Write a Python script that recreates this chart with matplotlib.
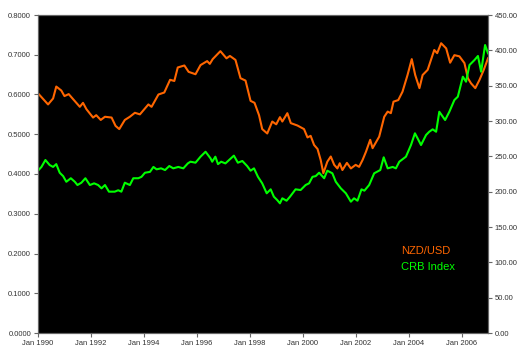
import matplotlib
matplotlib.use("Agg")
import matplotlib.pyplot as plt

fx_years = [1990.0, 1990.38, 1990.57, 1990.69, 1990.88, 1991.0, 1991.16, 1991.33, 1991.58, 1991.7,
            1991.83, 1992.08, 1992.2, 1992.37, 1992.53, 1992.78, 1992.93, 1993.07, 1993.28, 1993.47,
            1993.66, 1993.85, 1994.17, 1994.29, 1994.55, 1994.77, 1994.99, 1995.15, 1995.28, 1995.53,
            1995.69, 1995.95, 1996.14, 1996.39, 1996.49, 1996.6, 1996.89, 1997.12, 1997.25, 1997.46,
            1997.65, 1997.84, 1998.03, 1998.18, 1998.35, 1998.47, 1998.66, 1998.85, 1999.0, 1999.14,
            1999.23, 1999.42, 1999.55, 1999.8, 2000.05, 2000.18, 2000.3, 2000.43, 2000.56, 2000.68,
            2000.78, 2000.93, 2001.06, 2001.19, 2001.31, 2001.4, 2001.5, 2001.67, 2001.82, 2002.0,
            2002.13, 2002.26, 2002.39, 2002.55, 2002.64, 2002.89, 2003.08, 2003.21, 2003.33, 2003.43,
            2003.61, 2003.77, 2003.96, 2004.12, 2004.25, 2004.41, 2004.53, 2004.72, 2004.97, 2005.08,
            2005.23, 2005.42, 2005.57, 2005.73, 2005.92, 2006.11, 2006.24, 2006.36, 2006.52, 2006.68,
            2006.84, 2007.0]
fx_values = [0.603, 0.575, 0.590, 0.620, 0.610, 0.596, 0.601, 0.588, 0.569, 0.579,
             0.563, 0.542, 0.548, 0.536, 0.544, 0.542, 0.521, 0.513, 0.536, 0.544,
             0.554, 0.550, 0.575, 0.569, 0.600, 0.605, 0.637, 0.634, 0.668, 0.673,
             0.657, 0.651, 0.674, 0.684, 0.677, 0.689, 0.709, 0.691, 0.697, 0.687,
             0.641, 0.635, 0.584, 0.579, 0.548, 0.513, 0.502, 0.532, 0.525, 0.543,
             0.532, 0.553, 0.528, 0.522, 0.513, 0.492, 0.496, 0.473, 0.463, 0.435,
             0.402, 0.431, 0.444, 0.423, 0.414, 0.427, 0.410, 0.428, 0.414, 0.423,
             0.418, 0.435, 0.456, 0.486, 0.465, 0.494, 0.544, 0.557, 0.553, 0.582,
             0.586, 0.607, 0.649, 0.689, 0.649, 0.616, 0.649, 0.662, 0.712, 0.704,
             0.729, 0.716, 0.680, 0.699, 0.696, 0.679, 0.641, 0.628, 0.616, 0.637,
             0.662, 0.691]

# CRB Index (right axis)
crb_years = [1990.0, 1990.13, 1990.28, 1990.44, 1990.57, 1990.69, 1990.82, 1990.95, 1991.07, 1991.24,
             1991.39, 1991.49, 1991.64, 1991.79, 1991.96, 1992.12, 1992.27, 1992.4, 1992.53, 1992.68,
             1992.9, 1993.03, 1993.15, 1993.28, 1993.47, 1993.6, 1993.79, 1993.91, 1994.04, 1994.23,
             1994.36, 1994.48, 1994.65, 1994.8, 1994.96, 1995.11, 1995.3, 1995.49, 1995.66, 1995.76,
             1995.95, 1996.14, 1996.33, 1996.52, 1996.58, 1996.7, 1996.8, 1996.92, 1997.08, 1997.4,
             1997.55, 1997.72, 1997.9, 1998.03, 1998.16, 1998.31, 1998.47, 1998.64, 1998.79, 1998.91,
             1999.04, 1999.14, 1999.23, 1999.39, 1999.52, 1999.73, 1999.92, 2000.11, 2000.24, 2000.37,
             2000.49, 2000.62, 2000.81, 2000.93, 2001.12, 2001.25, 2001.44, 2001.63, 2001.82, 2001.94,
             2002.07, 2002.22, 2002.33, 2002.51, 2002.7, 2002.93, 2003.06, 2003.21, 2003.4, 2003.52,
             2003.65, 2003.9, 2004.09, 2004.24, 2004.34, 2004.47, 2004.66, 2004.78, 2004.91, 2005.04,
             2005.16, 2005.38, 2005.54, 2005.73, 2005.86, 2006.05, 2006.17, 2006.3, 2006.49, 2006.62,
             2006.74, 2006.89, 2007.0]
crb_values = [229.7, 235.0, 244.8, 237.7, 235.0, 239.0, 226.8, 222.0, 214.0, 219.0,
              214.0, 209.4, 212.7, 219.0, 209.4, 211.8, 209.4, 204.7, 209.4, 200.0,
              200.0, 202.0, 200.0, 212.7, 209.4, 219.0, 219.0, 221.0, 226.8, 228.0,
              235.0, 231.6, 233.0, 230.6, 236.3, 233.0, 235.0, 233.0, 240.0, 242.4,
              241.0, 249.5, 256.5, 247.0, 242.4, 249.5, 239.0, 242.4, 240.0, 251.0,
              241.0, 243.4, 236.3, 229.7, 233.0, 221.0, 211.8, 197.7, 203.3, 192.9,
              188.0, 183.5, 190.6, 187.2, 192.9, 203.3, 202.3, 209.4, 211.8, 221.0,
              222.0, 226.8, 219.0, 229.7, 226.0, 214.0, 204.7, 197.7, 185.8, 190.6,
              187.2, 203.3, 201.4, 209.4, 226.0, 230.6, 248.6, 233.0, 235.0, 233.0,
              242.4, 249.5, 266.0, 282.6, 275.5, 266.0, 280.2, 284.8, 288.2, 284.8,
              313.1, 301.4, 313.1, 329.7, 334.4, 362.7, 355.6, 379.2, 386.3, 392.0,
              369.7, 407.5, 395.8]

left_ticks = [0.1 * i for i in range(9)]
right_ticks = [50 * i for i in range(10)]
year_ticks = list(range(1990, 2007, 2))

orange = "#ff6600"
green = "#00ff00"
label_color = "#333333"
plt.rcParams['font.family'] = ['Liberation Sans', 'DejaVu Sans']

fig = plt.figure(figsize=(5.25, 3.59), dpi=100)
ax = fig.add_axes([38 / 525, 26 / 359, 450 / 525, 318 / 359])
ax.set_facecolor("black")
ax2 = ax.twinx()

ax.plot(fx_years, fx_values, color=orange, linewidth=1.5)
ax2.plot(crb_years, crb_values, color=green, linewidth=1.5)

ax.set_xlim(1990, 2007)
ax.set_ylim(0, 0.8)
ax2.set_ylim(0, 450)

ax.set_xticks(year_ticks)
ax.set_xticklabels(["Jan %d" % y for y in year_ticks])
ax.set_yticks(left_ticks)
ax.set_yticklabels(["%.4f" % v for v in left_ticks])
ax2.set_yticks(right_ticks)
ax2.set_yticklabels(["%.2f" % v for v in right_ticks])

for a in (ax, ax2):
    a.tick_params(labelsize=5.5, colors="#666666", labelcolor=label_color, length=3, width=0.8, pad=2)
    for s in a.spines.values():
        s.set_color("#666666")
        s.set_linewidth(0.8)

ax.text(0.806, 0.248, "NZD/USD", color=orange, fontsize=8, transform=ax.transAxes)
ax.text(0.806, 0.198, "CRB Index", color=green, fontsize=8, transform=ax.transAxes)

plt.savefig("out.png", dpi=100)
